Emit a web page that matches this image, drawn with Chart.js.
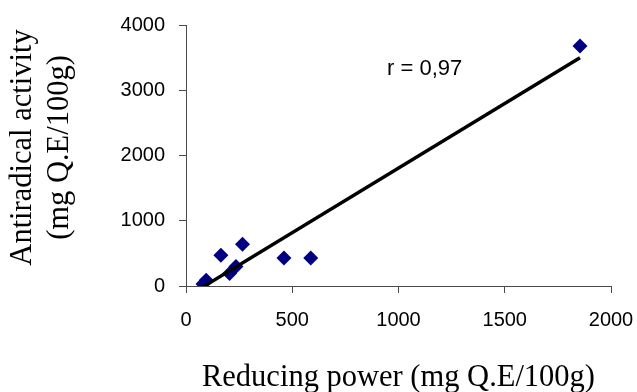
<!DOCTYPE html>
<html>
<head>
<meta charset="utf-8">
<script src="https://cdn.jsdelivr.net/npm/chart.js@4.4.0/dist/chart.umd.min.js"></script>
<style>
  html, body { margin: 0; padding: 0; background: #fff; }
  #wrap { width: 637px; height: 392px; position: relative; }
</style>
</head>
<body>
<div id="wrap"><canvas id="c" width="637" height="392"></canvas></div>
<script>
// Data
const reducingPower = [80, 95, 164, 205, 235, 266, 461, 587, 1854];
const antiradical   = [30, 90, 473, 190, 300, 640, 430, 430, 3680];
const xTicks = [0, 500, 1000, 1500, 2000];
const yTicks = [0, 1000, 2000, 3000, 4000];
const xTitle = 'Reducing power (mg Q.E/100g)';
const yTitle = ['Antiradical activity', '(mg Q.E/100g)'];
const rLabel = 'r = 0,97';

// Least-squares trend line computed from the data
const n = reducingPower.length;
const mx = reducingPower.reduce((a, b) => a + b, 0) / n;
const my = antiradical.reduce((a, b) => a + b, 0) / n;
let sxy = 0, sxx = 0;
for (let i = 0; i < n; i++) {
  sxy += (reducingPower[i] - mx) * (antiradical[i] - my);
  sxx += (reducingPower[i] - mx) ** 2;
}
const slope = sxy / sxx;
const intercept = my - slope * mx;
const xMin = Math.min(...reducingPower), xMax = Math.max(...reducingPower);
const trend = [xMin, xMax].map(x => ({ x, y: slope * x + intercept }));

const points = reducingPower.map((x, i) => ({ x, y: antiradical[i] }));

const serif = '"Liberation Serif", "Times New Roman", serif';

const textPlugin = {
  id: 'texts',
  afterDatasetsDraw(chart) {
    const { ctx, scales, chartArea } = chart;
    // r label
    const px = scales.x.getPixelForValue(946);
    const py = scales.y.getPixelForValue(3326);
    ctx.save();
    ctx.font = '22px "Liberation Sans", Arial, sans-serif';
    ctx.fillStyle = '#000';
    ctx.textAlign = 'left';
    ctx.textBaseline = 'middle';
    ctx.fillText(rLabel, px, py);
    ctx.restore();
    // y-axis title (two lines, rotated)
    const cy = (chartArea.top + chartArea.bottom) / 2 - 8;
    ctx.save();
    ctx.font = '30.5px ' + serif;
    ctx.fillStyle = '#000';
    ctx.textAlign = 'center';
    ctx.textBaseline = 'middle';
    ctx.translate(0, cy);
    ctx.rotate(-Math.PI / 2);
    yTitle.forEach((line, i) => ctx.fillText(line, 0, 23 + i * 37));
    ctx.restore();
  }
};

const tickFont = { family: '"Liberation Sans", Arial, sans-serif', size: 20 };
const axisColor = '#4a4a4a';

new Chart(document.getElementById('c'), {
  type: 'scatter',
  data: {
    datasets: [
      {
        type: 'line',
        data: trend,
        borderColor: '#000',
        borderWidth: 3.5,
        pointRadius: 0,
        fill: false,
        tension: 0
      },
      {
        data: points,
        pointStyle: 'rectRot',
        pointRadius: 7.5,
        pointHoverRadius: 7.5,
        backgroundColor: '#000080',
        borderColor: '#000080',
        borderWidth: 0
      }
    ]
  },
  options: {
    responsive: false,
    animation: false,
    devicePixelRatio: 1,
    layout: { padding: { left: 0, right: 26, top: 25, bottom: 0 } },
    plugins: { legend: { display: false }, tooltip: { enabled: false } },
    scales: {
      x: {
        type: 'linear',
        min: xTicks[0],
        max: xTicks[xTicks.length - 1],
        afterBuildTicks(scale) { scale.ticks = xTicks.map(v => ({ value: v })); },
        afterFit(scale) { scale.height = 106; scale.paddingRight = 0; scale.paddingLeft = 0; },
        border: { color: axisColor, width: 1 },
        grid: { drawOnChartArea: false, drawTicks: true, tickLength: 7, color: axisColor },
        ticks: { font: tickFont, color: '#000', padding: 15, maxRotation: 0, callback: v => String(v) },
        title: {
          display: true, text: xTitle, font: { family: serif, size: 30.5, lineHeight: 0.9 },
          color: '#000', padding: { top: 0, bottom: 0 }
        }
      },
      y: {
        type: 'linear',
        min: yTicks[0],
        max: yTicks[yTicks.length - 1],
        afterBuildTicks(scale) { scale.ticks = yTicks.map(v => ({ value: v })); },
        afterFit(scale) { scale.width = 186; scale.paddingTop = 0; scale.paddingBottom = 0; },
        border: { color: axisColor, width: 1 },
        grid: { drawOnChartArea: false, drawTicks: true, tickLength: 7, color: axisColor },
        ticks: { font: tickFont, color: '#000', padding: 14, callback: v => String(v) },
        title: { display: false }
      }
    }
  },
  plugins: [textPlugin]
});
</script>
</body>
</html>
